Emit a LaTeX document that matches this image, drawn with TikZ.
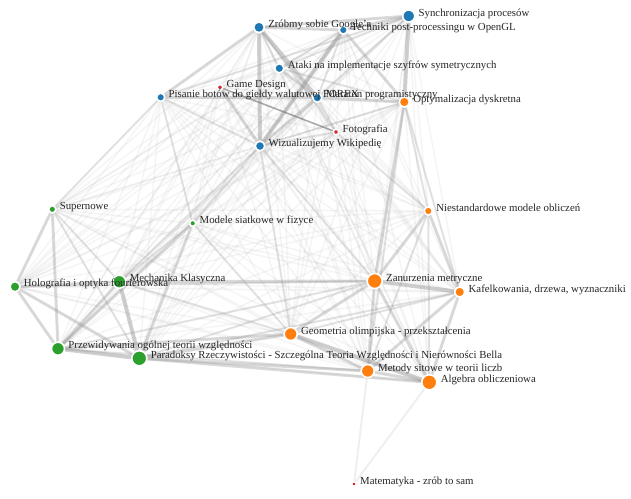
\documentclass[tikz,border=0pt]{standalone}
\usepackage{fontspec}
\setmainfont{Liberation Serif}
\definecolor{cblue}{HTML}{1F77B4}
\definecolor{corange}{HTML}{FF7F0E}
\definecolor{cgreen}{HTML}{2CA02C}
\definecolor{cred}{HTML}{D62728}
\pgfdeclarelayer{bg}
\pgfdeclarelayer{edges}
\pgfsetlayers{bg,edges,main}
\tikzset{
  v/.style={circle, draw=white, line width=1.5pt, inner sep=0pt, minimum size=#1},
  lbl/.style={anchor=base west, inner sep=0pt, font=\fontsize{10.8}{12}\selectfont, text=black!85},
  faint/.style={draw=black!40, line width=1.5pt, opacity=0.09},
  ea/.style={draw=black!40, line width=2pt, opacity=0.22},
  eb/.style={draw=black!40, line width=3pt, opacity=0.33},
  ec/.style={draw=black!40, line width=4pt, opacity=0.45},
  ed/.style={draw=black!55, line width=1.5pt, opacity=0.6},
}
\begin{document}
\begin{tikzpicture}[x=1pt,y=-1pt]
\begin{pgfonlayer}{bg}
\fill[white] (0,0) rectangle (631,498);
\end{pgfonlayer}
\useasboundingbox (0,0) rectangle (631,498);
% blue
\node[v=10.6pt, fill=cblue] (zg) at (259,27.3) {};
\node[v=8pt, fill=cblue] (tp) at (343.3,30) {};
\node[v=12pt, fill=cblue] (sp) at (408.7,16) {};
\node[v=9pt, fill=cblue] (at) at (279.3,68.3) {};
\node[v=8pt, fill=cblue] (pb) at (160.7,97.3) {};
\node[v=9pt, fill=cblue] (mp) at (317.3,97.7) {};
\node[v=9.4pt, fill=cblue] (ww) at (260,146) {};
% red
\node[v=5.4pt, fill=cred] (gd) at (220,87.3) {};
\node[v=5.4pt, fill=cred] (fo) at (336,132) {};
\node[v=4.4pt, fill=cred] (ma) at (354,484) {};
% orange
\node[v=10pt, fill=corange] (od) at (404.3,102) {};
\node[v=8pt, fill=corange] (nm) at (428.3,211) {};
\node[v=15pt, fill=corange] (zm) at (374.7,281) {};
\node[v=10pt, fill=corange] (kd) at (459.7,292) {};
\node[v=13pt, fill=corange] (go) at (290.7,334) {};
\node[v=13pt, fill=corange] (ms) at (367.7,371) {};
\node[v=15pt, fill=corange] (ao) at (429.3,382.3) {};
% green
\node[v=7pt, fill=cgreen] (su) at (52.3,209.3) {};
\node[v=6pt, fill=cgreen] (mf) at (192.7,223.3) {};
\node[v=10pt, fill=cgreen] (ho) at (15,286.7) {};
\node[v=13pt, fill=cgreen] (mk) at (119.3,281.7) {};
\node[v=13pt, fill=cgreen] (pt) at (58,348.7) {};
\node[v=15pt, fill=cgreen] (pr) at (139.3,358.3) {};

\begin{pgfonlayer}{edges}
\foreach \a [count=\i] in {zg,tp,sp,at,pb,mp,ww,gd,fo,od,nm,zm,kd,go,ms,ao,su,mf,ho,mk,pt,pr}{
  \foreach \b [count=\j] in {zg,tp,sp,at,pb,mp,ww,gd,fo,od,nm,zm,kd,go,ms,ao,su,mf,ho,mk,pt,pr}{
    \ifnum\j>\i \draw[faint] (\a) -- (\b); \fi
  }
}
\foreach \a/\b in {pb/ww,zg/at,zg/fo,tp/ww,tp/at,tp/mp,sp/mp,sp/at,sp/pb,at/od,ww/od,ww/fo,mp/fo,
  od/nm,od/kd,od/ms,nm/ao,nm/ms,su/mk,su/pr,mf/ww,mf/pb,mf/go,ww/zm,ww/go,pb/su,fo/nm,
  zm/pt,zm/pr,kd/go,kd/pr,go/mk,ho/zm,ww/mk,mf/mk,pt/ms}
  \draw[ea] (\a) -- (\b);
\draw[ea, opacity=0.15] (ma) -- (ms);
\draw[ea, opacity=0.15] (ma) -- (ao);
\foreach \a/\b in {zg/tp,zg/pb,zg/sp,tp/sp,tp/od,mp/od,pb/mp,gd/ww,ww/mp,at/mp,
  od/zm,nm/zm,nm/kd,zm/ms,zm/ao,zm/go,kd/ao,kd/ms,go/ms,ms/ao,pr/ms,pr/ao,
  su/ho,su/pt,ho/mk,ho/pt,ho/pr,mk/pt,mf/pt,mf/pr,go/pr,go/pt,mk/zm}
  \draw[eb] (\a) -- (\b);
\foreach \a/\b in {zg/ww,zg/mp,sp/od,mk/pr,pt/pr,zm/kd,go/ao,tp/ww}
  \draw[ec] (\a) -- (\b);
\draw[ed] (gd) -- (fo);
\end{pgfonlayer}

% labels
\node[lbl] (zg-l) at ([xshift=3pt]zg.east) {Zróbmy sobie Google'a};
\node[lbl] (tp-l) at ([xshift=3pt]tp.east) {Techniki post-processingu w OpenGL};
\node[lbl] (sp-l) at ([xshift=3pt]sp.east) {Synchronizacja procesów};
\node[lbl] (at-l) at ([xshift=3pt]at.east) {Ataki na implementacje szyfrów symetrycznych};
\node[lbl] (pb-l) at ([xshift=3pt]pb.east) {Pisanie botów do giełdy walutowej FOREX};
\node[lbl] (mp-l) at ([xshift=3pt]mp.east) {Maraton programistyczny};
\node[lbl] (ww-l) at ([xshift=3pt]ww.east) {Wizualizujemy Wikipedię};
\node[lbl] (gd-l) at ([xshift=3pt]gd.east) {Game Design};
\node[lbl] (fo-l) at ([xshift=3pt]fo.east) {Fotografia};
\node[lbl] (ma-l) at ([xshift=3pt]ma.east) {Matematyka - zrób to sam};
\node[lbl] (od-l) at ([xshift=3pt]od.east) {Optymalizacja dyskretna};
\node[lbl] (nm-l) at ([xshift=3pt]nm.east) {Niestandardowe modele obliczeń};
\node[lbl] (zm-l) at ([xshift=3pt]zm.east) {Zanurzenia metryczne};
\node[lbl] (kd-l) at ([xshift=3pt]kd.east) {Kafelkowania, drzewa, wyznaczniki};
\node[lbl] (go-l) at ([xshift=3pt]go.east) {Geometria olimpijska - przekształcenia};
\node[lbl] (ms-l) at ([xshift=3pt]ms.east) {Metody sitowe w teorii liczb};
\node[lbl] (ao-l) at ([xshift=3pt]ao.east) {Algebra obliczeniowa};
\node[lbl] (su-l) at ([xshift=3pt]su.east) {Supernowe};
\node[lbl] (mf-l) at ([xshift=3pt]mf.east) {Modele siatkowe w fizyce};
\node[lbl] (ho-l) at ([xshift=3pt]ho.east) {Holografia i optyka fourierowska};
\node[lbl] (mk-l) at ([xshift=3pt]mk.east) {Mechanika Klasyczna};
\node[lbl] (pt-l) at ([xshift=3pt]pt.east) {Przewidywania ogólnej teorii względności};
\node[lbl] (pr-l) at ([xshift=3pt]pr.east) {Paradoksy Rzeczywistości - Szczególna Teoria Względności i Nierówności Bella};
\end{tikzpicture}
\end{document}
